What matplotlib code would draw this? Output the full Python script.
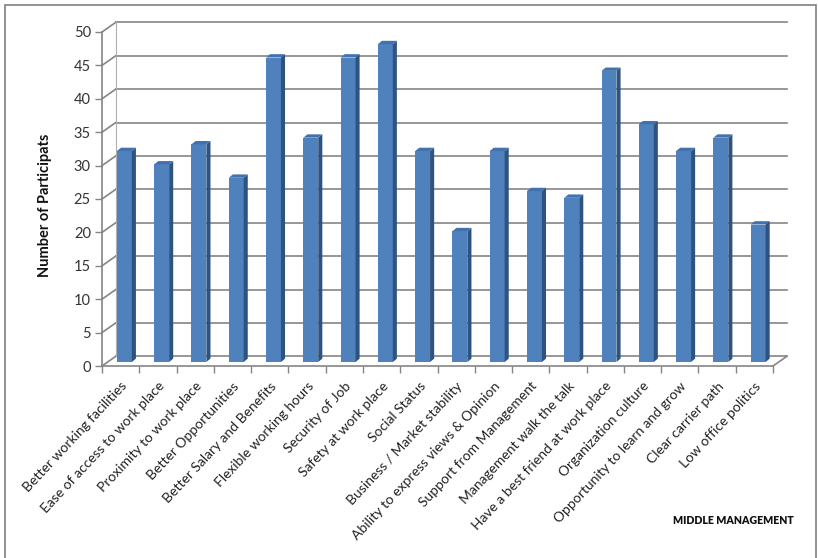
import matplotlib
matplotlib.use("Agg")
import matplotlib.pyplot as plt
from matplotlib.patches import Polygon, Rectangle
import numpy as np

categories = [
    "Better working facilities", "Ease of access to work place", "Proximity to work place",
    "Better Opportunities", "Better Salary and Benefits", "Flexible working hours",
    "Security of Job", "Safety at work place", "Social Status", "Business / Market stability",
    "Ability to express views & Opinion", "Support from Management", "Management walk the talk",
    "Have a best friend at work place", "Organization culture", "Opportunity to learn and grow",
    "Clear carrier path", "Low office politics",
]
values = [32, 30, 33, 28, 46, 34, 46, 48, 32, 20, 32, 26, 25, 44, 36, 32, 34, 21]
yticks = [0, 5, 10, 15, 20, 25, 30, 35, 40, 45, 50]
ylabel = "Number of Participats"
note = "MIDDLE MANAGEMENT"

W, H = 818, 558
fig = plt.figure(figsize=(W / 100, H / 100), dpi=100)
plt.rcParams['font.family'] = ['Lato', 'DejaVu Sans']

n = len(categories)
dx, dy = 0.37, 1.45          # depth offset of back wall
ymax = 50
px_left, px_bottom = 102, 366
px_per_cat = 37.28
px_per_unit = 6.68
x0, x1 = -0.5, n - 0.5 + dx
y0, y1 = 0, ymax + dy
ax_w = (x1 - x0) * px_per_cat
ax_h = (y1 - y0) * px_per_unit
ax = fig.add_axes([px_left / W, (H - px_bottom) / H, ax_w / W, ax_h / H])
ax.set_xlim(x0, x1)
ax.set_ylim(y0, y1)
for s in ax.spines.values():
    s.set_visible(False)
ax.patch.set_alpha(0)

grid_c = "#858585"
lw = 1.2
# back wall gridlines and side wall diagonals
for v in yticks:
    ax.plot([-0.5 + dx, n - 0.5 + dx], [v + dy, v + dy], color=grid_c, lw=lw, clip_on=False, zorder=1)
    ax.plot([-0.5, -0.5 + dx], [v, v + dy], color=grid_c, lw=lw, clip_on=False, zorder=1)
ax.plot([-0.5 + dx, -0.5 + dx], [dy, ymax + dy], color="#b0b0b0", lw=0.8, clip_on=False, zorder=1)
ax.plot([-0.5, -0.5], [0, ymax], color=grid_c, lw=lw, clip_on=False, zorder=1)
# floor
ax.plot([-0.5, n - 0.5], [0, 0], color=grid_c, lw=lw, clip_on=False, zorder=1)
ax.plot([n - 0.5, n - 0.5 + dx], [0, dy], color=grid_c, lw=lw, clip_on=False, zorder=1)

# bars (pseudo-3D)
bw = 0.40
bx_off = 0.10
by_off = 0.6
sdx, sdy = 0.11, 0.5
front_c = "#4F81BD"
side_c = "#2E5381"
top_c = "#4272AE"
xs = np.arange(n)
for i, v in enumerate(values):
    left = xs[i] - bw / 2 + bx_off
    right = left + bw
    b = by_off
    t = v + by_off * 0.3
    ax.add_patch(Rectangle((left, b), bw, t - b, facecolor=front_c, edgecolor="none", zorder=3))
    ax.add_patch(Polygon([(right, b), (right + sdx, b + sdy), (right + sdx, t + sdy), (right, t)],
                         closed=True, facecolor=side_c, edgecolor="none", zorder=3))
    ax.add_patch(Polygon([(left, t), (right, t), (right + sdx, t + sdy), (left + sdx, t + sdy)],
                         closed=True, facecolor=top_c, edgecolor="none", zorder=3))

# ticks
ax.set_yticks(yticks)
ax.set_yticklabels([str(v) for v in yticks])
ax.tick_params(axis='y', length=5, width=1, color=grid_c, direction='out', labelsize=10.5,
               labelcolor="#333333", pad=3)
ax.set_xticks(xs)
ax.set_xticklabels(categories, rotation=47, ha='right', rotation_mode='anchor',
                   fontsize=10, color="#222222")
ax.tick_params(axis='x', which='major', length=0, pad=10)
ax.set_xticks(np.arange(n + 1) - 0.5, minor=True)
ax.tick_params(axis='x', which='minor', length=5, width=1, color=grid_c, direction='out')

fig.text(45 / W, 1 - 205 / H, ylabel, rotation=90, ha='center', va='center',
         fontsize=10.5, fontweight='bold', color="#111111")
fig.text(794 / W, 1 - 520 / H, note, ha='right', va='center', fontsize=7.6,
         fontweight='heavy', color="#111111")

# outer frame
fig.patches.append(Rectangle((5 / W, -0.05), (816 - 5) / W, 1.05 - 5 / H, transform=fig.transFigure,
                             fill=False, edgecolor="#7f7f7f", lw=1.2))

fig.savefig("out.png", dpi=100)
